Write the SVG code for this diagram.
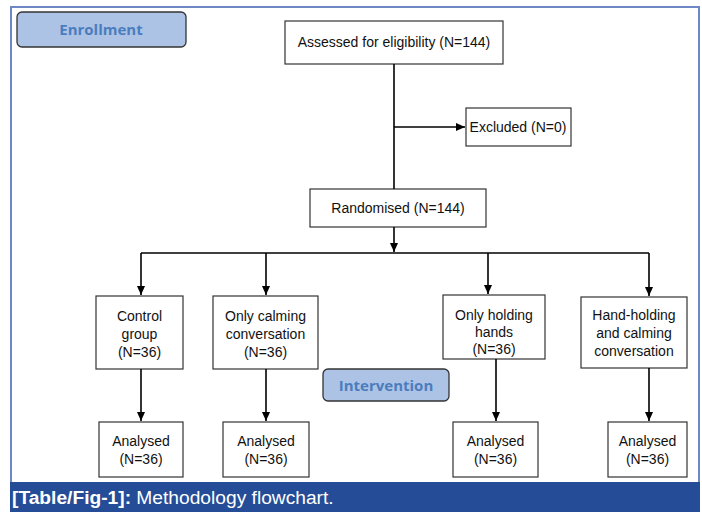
<svg xmlns="http://www.w3.org/2000/svg" width="702" height="512" viewBox="0 0 702 512">
<style>
.box{fill:#fff;stroke:#333;stroke-width:1.2}
.t{font-family:"Liberation Sans",Arial,sans-serif;font-size:14px;fill:#111;text-anchor:middle}
.lbl{fill:#adc3e5;stroke:#333;stroke-width:1.3}
.lt{font-family:"Open Sans","Liberation Sans",sans-serif;font-weight:bold;font-size:15px;fill:#4a7dbd;text-anchor:middle}
.c{fill:none;stroke:#000;stroke-width:1.6}
</style>
<defs>
<marker id="ah" markerWidth="10" markerHeight="10" refX="9" refY="5" orient="auto" markerUnits="userSpaceOnUse">
<path d="M0,1 L9,5 L0,9 Z" fill="#000"/>
</marker>
</defs>
<rect x="0" y="0" width="702" height="512" fill="#fff"/>
<path d="M11,482 V7 H699 V482" fill="none" stroke="#6d88c4" stroke-width="2"/>
<rect x="10" y="482" width="690" height="30" fill="#244c97"/>
<text x="12" y="503.5" font-family="Liberation Sans,Arial,sans-serif" font-size="19.2" fill="#fff"><tspan font-weight="bold">[Table/Fig-1]:</tspan> Methodology flowchart.</text>

<g id="enrollment"><rect class="lbl" x="17" y="12" width="169" height="35" rx="5"/><text class="lt" x="101" y="35">Enrollment</text></g>
<g id="intervention"><rect class="lbl" x="323" y="369" width="126" height="32" rx="5"/><text class="lt" x="386" y="390.5">Intervention</text></g>

<g id="assessed"><rect class="box" x="285" y="21" width="218" height="43"/><text class="t" x="394" y="47">Assessed for eligibility (N=144)</text></g>
<g id="excluded"><rect class="box" x="466" y="108" width="105" height="38"/><text class="t" x="518" y="132">Excluded (N=0)</text></g>
<g id="randomised"><rect class="box" x="310" y="189" width="176" height="38"/><text class="t" x="398" y="213">Randomised (N=144)</text></g>

<g id="control"><rect class="box" x="96" y="296" width="87" height="73"/><text class="t" x="139.5" y="321">Control</text><text class="t" x="139.5" y="339">group</text><text class="t" x="139.5" y="357">(N=36)</text></g>
<g id="calming"><rect class="box" x="213" y="296" width="105" height="73"/><text class="t" x="265.5" y="321">Only calming</text><text class="t" x="265.5" y="339">conversation</text><text class="t" x="265.5" y="357">(N=36)</text></g>
<g id="holding"><rect class="box" x="443" y="295" width="102" height="64"/><text class="t" x="494" y="320">Only holding</text><text class="t" x="494" y="337">hands</text><text class="t" x="494" y="354">(N=36)</text></g>
<g id="handholding"><rect class="box" x="581" y="297" width="106" height="71"/><text class="t" x="634" y="320">Hand-holding</text><text class="t" x="634" y="338">and calming</text><text class="t" x="634" y="356">conversation</text></g>

<g id="a1"><rect class="box" x="99" y="422" width="84" height="55"/><text class="t" x="141" y="446">Analysed</text><text class="t" x="141" y="464">(N=36)</text></g>
<g id="a2"><rect class="box" x="223" y="422" width="86" height="55"/><text class="t" x="266" y="446">Analysed</text><text class="t" x="266" y="464">(N=36)</text></g>
<g id="a3"><rect class="box" x="453" y="422" width="85" height="55"/><text class="t" x="495.5" y="446">Analysed</text><text class="t" x="495.5" y="464">(N=36)</text></g>
<g id="a4"><rect class="box" x="608" y="422" width="79" height="55"/><text class="t" x="647.5" y="446">Analysed</text><text class="t" x="647.5" y="464">(N=36)</text></g>

<g id="connectors">
<path class="c" d="M394,64 V189"/>
<path class="c" d="M394,127 H465" marker-end="url(#ah)"/>
<path class="c" d="M394,227 V252" marker-end="url(#ah)"/>
<path class="c" d="M141,253 H649"/>
<path class="c" d="M141,253 V295" marker-end="url(#ah)"/>
<path class="c" d="M266,253 V295" marker-end="url(#ah)"/>
<path class="c" d="M488,253 V294" marker-end="url(#ah)"/>
<path class="c" d="M649,253 V296" marker-end="url(#ah)"/>
<path class="c" d="M141,369 V421" marker-end="url(#ah)"/>
<path class="c" d="M266,369 V421" marker-end="url(#ah)"/>
<path class="c" d="M496,359 V421" marker-end="url(#ah)"/>
<path class="c" d="M649,368 V421" marker-end="url(#ah)"/>
</g>
</svg>
